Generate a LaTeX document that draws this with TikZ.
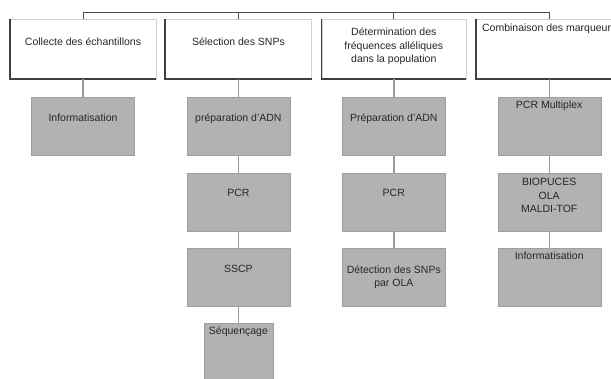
\documentclass[tikz,border=0pt]{standalone}
\usepackage{fontspec}
\setmainfont{Liberation Sans}
\usetikzlibrary{positioning}

\begin{document}
\begin{tikzpicture}[
  x=1pt, y=-1pt, node distance=17pt and 9pt,
  font=\fontsize{10.5}{13.5}\selectfont, text=black!85,
  head/.style={rectangle, draw=gray!35, fill=white, minimum width=146pt, minimum height=60pt, inner sep=0pt, align=center, text height=7pt, text depth=15pt},
  task/.style={rectangle, draw=gray!75, fill=gray!60, minimum width=103pt, minimum height=58pt, inner sep=0pt, align=center, text height=7pt, text depth=17pt},
  hang/.style={text depth=43pt},
  multi/.style={text height={}, text depth={}},
  shade3d/.style={draw=black!75, line width=1.6pt},
  tree/.style={draw=black!70, line width=0.8pt},
  link/.style={draw=gray!80, line width=1.4pt},
]
  \clip (0,0) rectangle (611,378);
  \coordinate (bar) at (0,12);

  \node[head] (collect) at (83,49) {Collecte des échantillons};
  \node[head, right=of collect] (select) {Sélection des SNPs};
  \node[head, multi, right=10pt of select, minimum width=144pt] (freq) {Détermination des\\fréquences alléliques\\dans la population\\[-6pt]};
  \node[head, right=10pt of freq, text depth=43pt] (combi) {Combinaison des marqueurs};

  \node[task, below=18pt of collect] (info1) {Informatisation};

  \node[task, below=18pt of select] (adn2) {préparation d'ADN};
  \node[task, below=of adn2] (pcr2) {PCR};
  \node[task, below=of pcr2] (sscp) {SSCP};
  \node[task, hang, below=of sscp, minimum width=69pt] (seq) {Séquençage};

  \node[task, below=18pt of freq] (adn3) {Préparation d'ADN};
  \node[task, below=of adn3] (pcr3) {PCR};
  \node[task, multi, below=of pcr3] (ola) {Détection des SNPs\\par OLA};

  \node[task, hang, below=18pt of combi] (multiplex) {PCR Multiplex};
  \node[task, multi, below=of multiplex] (chips) {BIOPUCES\\OLA\\MALDI-TOF\\[-1pt]};
  \node[task, hang, below=of chips] (info4) {Informatisation};

  % 3d edges of the headers
  \foreach \h in {collect,select,freq,combi}
    \draw[shade3d] (\h.north west) -- (\h.south west) -- (\h.south east);

  % top bar
  \draw[tree] (collect.north) -- (collect.north |- bar) -| (combi.north);
  \draw[tree] (select.north) -- (select.north |- bar);
  \draw[tree] (freq.north) -- (freq.north |- bar);

  % columns
  \draw[link] (collect) -- (info1);
  \draw[link] (select) -- (adn2);
  \draw[link] (adn2) -- (pcr2);
  \draw[link] (pcr2) -- (sscp);
  \draw[link] (sscp) -- (seq);
  \draw[link] (freq) -- (adn3);
  \draw[link] (adn3) -- (pcr3);
  \draw[link] (pcr3) -- (ola);
  \draw[link] (combi) -- (multiplex);
  \draw[link] (multiplex) -- (chips);
  \draw[link] (chips) -- (info4);
\end{tikzpicture}
\end{document}
